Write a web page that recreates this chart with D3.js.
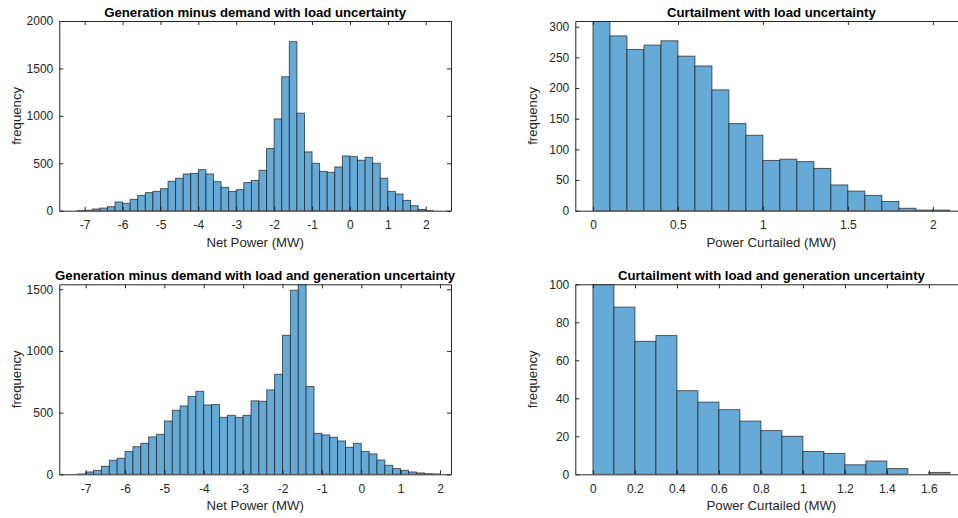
<!DOCTYPE html>
<meta charset="utf-8">
<script src="https://d3js.org/d3.v7.min.js"></script>
<style>
body {margin: 0; background: #fff;}
svg {display: block;}
text {font-family: "Liberation Sans", Arial, Helvetica, sans-serif; fill: #262626;}
</style>
<div id="chart"></div>
<script>
// bin counts, one value per bin (left edge = start + i*width)
var netLoadStart = -7.2, netLoadWidth = 0.2;
var netLoadCounts = [3, 5, 18, 28, 42, 92, 78, 120, 162, 190,
	204, 232, 310, 342, 387, 394, 433, 387, 306, 246,
	204, 222, 296, 320, 426, 655, 968, 1412, 1782, 1028,
	620, 500, 415, 405, 461, 577, 570, 532, 563, 500,
	342, 204, 176, 109, 53, 14, 3];

var netBothStart = -7.2, netBothWidth = 0.2;
var netBothCounts = [3, 19, 32, 65, 114, 130, 184, 224, 251, 303,
	324, 432, 519, 554, 632, 673, 562, 565, 462, 478,
	462, 478, 595, 592, 684, 811, 1127, 1492, 1600, 711,
	332, 319, 300, 270, 219, 251, 186, 165, 116, 73,
	46, 32, 19, 11, 5, 3];

var curtLoadStart = 0, curtLoadWidth = 0.1;
var curtLoadCounts = [312, 285, 263, 270, 277, 252, 236, 197, 142, 123,
	82, 84, 80, 69, 42, 32, 25, 15, 4, 1, 1];

var curtBothStart = 0, curtBothWidth = 0.1;
var curtBothCounts = [100, 88, 70, 73, 44, 38, 34, 28, 23, 20,
	12, 11, 5, 7, 3, 0, 1];

// tick labels
var netTicks = [-7, -6, -5, -4, -3, -2, -1, 0, 1, 2];
var curtLoadTicks = [0, 0.5, 1, 1.5, 2];
var curtBothTicks = [0, 0.2, 0.4, 0.6, 0.8, 1, 1.2, 1.4, 1.6];
var freqTicks2000 = [0, 500, 1000, 1500, 2000];
var freqTicks1500 = [0, 500, 1000, 1500];
var freqTicks300 = [0, 50, 100, 150, 200, 250, 300];
var freqTicks100 = [0, 20, 40, 60, 80, 100];

var titles = [
	"Generation minus demand with load uncertainty",
	"Curtailment with load uncertainty",
	"Generation minus demand with load and generation uncertainty",
	"Curtailment with load and generation uncertainty"
];
var xLabels = ["Net Power (MW)", "Power Curtailed (MW)", "Net Power (MW)", "Power Curtailed (MW)"];

var width = 958;
var height = 518;

var panels = [
	{left: 59.3, right: 451, top: 21, bottom: 210.7, xDom: [-7.67, 2.667], yDom: [0, 2000],
		start: netLoadStart, binW: netLoadWidth, counts: netLoadCounts, xTicks: netTicks, yTicks: freqTicks2000,
		title: titles[0], xLabel: xLabels[0]},
	{left: 575.3, right: 967.5, top: 21, bottom: 210.7, xDom: [-0.104, 2.204], yDom: [0, 309.3],
		start: curtLoadStart, binW: curtLoadWidth, counts: curtLoadCounts, xTicks: curtLoadTicks, yTicks: freqTicks300,
		title: titles[1], xLabel: xLabels[1]},
	{left: 59.3, right: 451, top: 284.3, bottom: 474.3, xDom: [-7.67, 2.28], yDom: [0, 1540],
		start: netBothStart, binW: netBothWidth, counts: netBothCounts, xTicks: netTicks, yTicks: freqTicks1500,
		title: titles[2], xLabel: xLabels[2]},
	{left: 575.3, right: 967.5, top: 284.3, bottom: 474.3, xDom: [-0.084, 1.784], yDom: [0, 100],
		start: curtBothStart, binW: curtBothWidth, counts: curtBothCounts, xTicks: curtBothTicks, yTicks: freqTicks100,
		title: titles[3], xLabel: xLabels[3]}
];

var svg = d3.select("#chart").append("svg")
	.attr("width", width)
	.attr("height", height);

svg.append("rect")
	.attr("width", width)
	.attr("height", height)
	.attr("fill", "#fff");

var fmt = function(d) { return String(d); };

panels.forEach(function(p, i) {
	var x = d3.scaleLinear().domain(p.xDom).range([p.left, p.right]);
	var y = d3.scaleLinear().domain(p.yDom).range([p.bottom, p.top]);

	var clipId = "clip" + i;
	svg.append("clipPath").attr("id", clipId)
		.append("rect")
		.attr("x", p.left)
		.attr("y", p.top)
		.attr("width", p.right - p.left)
		.attr("height", p.bottom - p.top);

	var bins = p.counts.map(function(c, k) {
		return {x0: p.start + k * p.binW, x1: p.start + (k + 1) * p.binW, n: c};
	});

	svg.append("g")
		.attr("clip-path", "url(#" + clipId + ")")
		.selectAll("rect")
		.data(bins.filter(function(b) { return b.n > 0; }))
		.enter().append("rect")
		.attr("x", function(b) { return x(b.x0); })
		.attr("width", function(b) { return x(b.x1) - x(b.x0); })
		.attr("y", function(b) { return y(b.n); })
		.attr("height", function(b) { return y(0) - y(b.n); })
		.attr("fill", "#66aad7")
		.attr("stroke", "#1a1a1a")
		.attr("stroke-opacity", 0.75)
		.attr("stroke-width", 0.9);

	// box with inward ticks, like matlab
	var axes = [
		{ax: d3.axisBottom(x).tickValues(p.xTicks).tickFormat(fmt), tr: "translate(0," + p.bottom + ")", pad: 10},
		{ax: d3.axisTop(x).tickValues(p.xTicks).tickFormat(""), tr: "translate(0," + p.top + ")", pad: 0},
		{ax: d3.axisLeft(y).tickValues(p.yTicks).tickFormat(fmt), tr: "translate(" + p.left + ",0)", pad: 6},
		{ax: d3.axisRight(y).tickValues(p.yTicks).tickFormat(""), tr: "translate(" + p.right + ",0)", pad: 0}
	];
	axes.forEach(function(a) {
		svg.append("g")
			.attr("transform", a.tr)
			.attr("color", "#262626")
			.call(a.ax.tickSizeInner(-4).tickSizeOuter(0).tickPadding(a.pad))
			.attr("font-family", null)
			.attr("font-size", 12);
	});

	var cx = (p.left + p.right) / 2;
	svg.append("text")
		.attr("x", cx)
		.attr("y", p.top - 4.5)
		.attr("text-anchor", "middle")
		.attr("font-size", 13.2)
		.attr("font-weight", "bold")
		.style("fill", "#000")
		.text(p.title);

	svg.append("text")
		.attr("x", cx)
		.attr("y", p.bottom + 36)
		.attr("text-anchor", "middle")
		.attr("font-size", 13.2)
		.text(p.xLabel);

	svg.append("text")
		.attr("transform", "translate(" + (p.left - 42.5) + "," + ((p.top + p.bottom) / 2) + ") rotate(-90)")
		.attr("dy", "0.35em")
		.attr("text-anchor", "middle")
		.attr("font-size", 13.2)
		.text("frequency");
});
</script>
